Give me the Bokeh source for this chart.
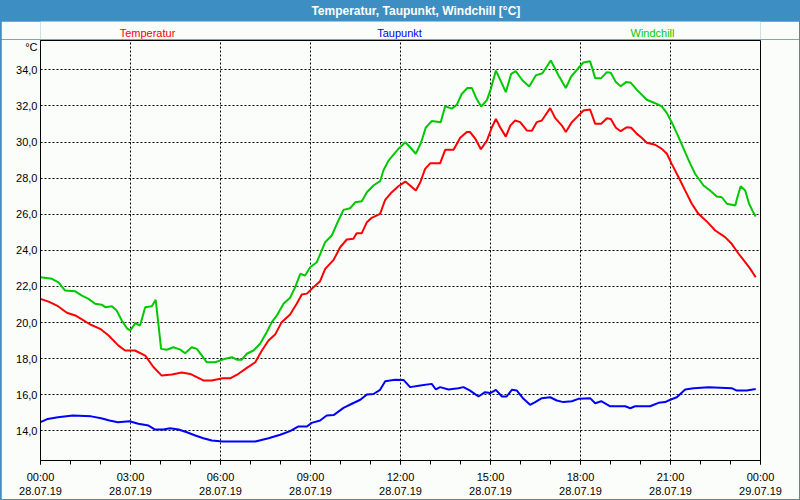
from bokeh.plotting import figure
from bokeh.models import FixedTicker, Range1d
from bokeh.layouts import column
from bokeh.embed import file_html
from bokeh.resources import INLINE
from bokeh.core.properties import value

# ---------------- data ----------------
title_text = "Temperatur, Taupunkt, Windchill [°C]"
series_names = ["Temperatur", "Taupunkt", "Windchill"]
series_colors = ["#ff0000", "#0000ff", "#00c800"]
y_unit = "°C"

x_ticks = [0, 3, 6, 9, 12, 15, 18, 21, 24]
x_tick_labels = ["00:00\n28.07.19", "03:00\n28.07.19", "06:00\n28.07.19",
                 "09:00\n28.07.19", "12:00\n28.07.19", "15:00\n28.07.19",
                 "18:00\n28.07.19", "21:00\n28.07.19", "00:00\n29.07.19"]
x_minor = list(range(0, 25))
y_ticks = [14, 16, 18, 20, 22, 24, 26, 28, 30, 32, 34]
y_tick_labels = ["14,0", "16,0", "18,0", "20,0", "22,0", "24,0",
                 "26,0", "28,0", "30,0", "32,0", "34,0"]
y_unit_pos = 35.25  # where the unit label sits on the y axis

# hours since 28.07.19 00:00
hours_temp = [0.0, 0.27, 0.55, 0.88, 1.16, 1.38, 1.66, 1.99, 2.27, 2.6, 2.82, 3.15, 3.49, 3.77,
              4.04, 4.38, 4.71, 4.99, 5.21, 5.43, 5.71, 6.07, 6.32, 6.6, 6.88, 7.16, 7.38, 7.6,
              7.82, 8.04, 8.32, 8.54, 8.71, 8.88, 9.1, 9.32, 9.49, 9.77, 9.99, 10.21, 10.43,
              10.54, 10.71, 10.88, 11.04, 11.32, 11.49, 11.71, 11.93, 12.16, 12.32, 12.51,
              12.66, 12.82, 12.99, 13.32, 13.49, 13.77, 13.99, 14.21, 14.32, 14.49, 14.68,
              14.88, 15.04, 15.18, 15.32, 15.51, 15.66, 15.82, 15.99, 16.21, 16.38, 16.54,
              16.71, 16.99, 17.16, 17.38, 17.51, 17.71, 17.88, 18.1, 18.32, 18.49, 18.69,
              18.88, 19.01, 19.18, 19.34, 19.54, 19.69, 19.88, 20.04, 20.21, 20.49, 20.71,
              20.88, 21.04, 21.27, 21.49, 21.71, 21.93, 22.21, 22.49, 22.82, 23.04, 23.27,
              23.49, 23.66, 23.84]
temp = [21.31, 21.16, 20.94, 20.54, 20.39, 20.17, 19.89, 19.65, 19.28, 18.72, 18.45, 18.45, 18.17,
        17.52, 17.06, 17.12, 17.23, 17.15, 16.97, 16.79, 16.79, 16.91, 16.91, 17.16, 17.49, 17.80,
        18.45, 19.0, 19.33, 20.02, 20.44, 21.04, 21.55, 21.6, 21.96, 22.29, 22.97, 23.47, 24.17,
        24.6, 24.64, 24.95, 24.95, 25.56, 25.8, 26.02, 26.8, 27.22, 27.55, 27.81, 27.59, 27.31,
        27.77, 28.51, 28.82, 28.82, 29.57, 29.57, 30.24, 30.55, 30.55, 30.19, 29.6, 30.08, 30.79,
        31.28, 30.82, 30.3, 30.91, 31.19, 31.1, 30.64, 30.62, 31.10, 31.19, 31.88, 31.32, 30.91,
        30.55, 31.10, 31.38, 31.75, 31.80, 31.01, 31.01, 31.32, 31.28, 30.79, 30.6, 30.82, 30.79,
        30.45, 30.24, 29.96, 29.85, 29.62, 29.35, 28.79, 28.05, 27.31, 26.58, 26.02, 25.6, 25.1,
        24.73, 24.36, 23.81, 23.34, 22.97, 22.51]

hours_dew = [0.0, 0.24, 0.58, 1.08, 1.69, 2.02, 2.3, 2.58, 2.97, 3.26, 3.6, 3.82, 4.1, 4.32, 4.6,
             4.88, 5.16, 5.43, 5.71, 6.07, 7.16, 7.6, 7.99, 8.32, 8.6, 8.88, 9.04, 9.32, 9.54,
             9.77, 10.1, 10.38, 10.66, 10.88, 11.1, 11.32, 11.49, 11.82, 12.1, 12.32, 12.66,
             13.04, 13.18, 13.32, 13.6, 13.93, 14.1, 14.32, 14.6, 14.82, 14.99, 15.18, 15.38,
             15.54, 15.71, 15.88, 16.1, 16.32, 16.49, 16.71, 16.99, 17.21, 17.43, 17.71, 17.93,
             18.32, 18.49, 18.69, 18.99, 19.49, 19.66, 19.82, 20.32, 20.6, 20.82, 20.99, 21.21,
             21.49, 21.77, 22.27, 23.04, 23.21, 23.54, 23.84]
dew = [14.48, 14.66, 14.75, 14.85, 14.8, 14.70, 14.57, 14.48, 14.53, 14.39, 14.29, 14.07, 14.07,
       14.14, 14.07, 13.92, 13.74, 13.59, 13.46, 13.41, 13.41, 13.59, 13.78, 13.98, 14.24, 14.24,
       14.44, 14.57, 14.85, 14.87, 15.27, 15.5, 15.72, 16.01, 16.04, 16.27, 16.75, 16.83, 16.82,
       16.42, 16.51, 16.6, 16.29, 16.42, 16.29, 16.36, 16.42, 16.23, 15.9, 16.14, 16.09, 16.27,
       15.9, 15.9, 16.27, 16.23, 15.77, 15.44, 15.59, 15.81, 15.86, 15.68, 15.59, 15.64, 15.77,
       15.81, 15.53, 15.64, 15.36, 15.36, 15.25, 15.36, 15.36, 15.55, 15.59, 15.72, 15.86, 16.29,
       16.36, 16.42, 16.36, 16.23, 16.23, 16.32]

hours_wc = [0.0, 0.38, 0.6, 0.82, 1.16, 1.38, 1.6, 1.82, 2.04, 2.16, 2.38, 2.54, 2.71, 2.88, 2.99,
            3.16, 3.32, 3.49, 3.71, 3.84, 3.93, 4.02, 4.21, 4.43, 4.66, 4.82, 5.04, 5.21, 5.38,
            5.54, 5.82, 6.05, 6.16, 6.38, 6.54, 6.71, 6.88, 7.1, 7.32, 7.54, 7.71, 7.88, 8.1,
            8.32, 8.49, 8.66, 8.82, 8.99, 9.21, 9.49, 9.71, 9.88, 10.1, 10.32, 10.49, 10.71,
            10.88, 11.1, 11.32, 11.43, 11.6, 11.93, 12.16, 12.32, 12.51, 12.69, 12.84, 13.04,
            13.34, 13.49, 13.71, 13.88, 14.04, 14.23, 14.38, 14.54, 14.69, 14.88, 15.02, 15.18,
            15.36, 15.51, 15.69, 15.84, 16.07, 16.29, 16.51, 16.73, 17.01, 17.27, 17.51, 17.69,
            17.93, 18.1, 18.32, 18.49, 18.69, 18.88, 19.01, 19.18, 19.34, 19.52, 19.68, 19.88,
            20.21, 20.49, 20.71, 20.88, 21.04, 21.27, 21.49, 21.66, 21.82, 22.1, 22.32, 22.54,
            22.71, 22.88, 23.16, 23.23, 23.34, 23.49, 23.62, 23.73, 23.84]
wc = [22.51, 22.42, 22.23, 21.77, 21.73, 21.49, 21.31, 21.04, 20.99, 20.85, 20.9, 20.66, 20.11,
      19.68, 19.56, 19.96, 19.83, 20.85, 20.9, 21.26, 19.93, 18.54, 18.49, 18.63, 18.5, 18.30,
      18.63, 18.54, 18.17, 17.8, 17.8, 17.93, 17.99, 18.08, 17.94, 17.94, 18.27, 18.45, 18.82,
      19.46, 20.02, 20.39, 21.04, 21.37, 21.96, 22.70, 22.6, 23.06, 23.34, 24.45, 24.82, 25.47,
      26.24, 26.33, 26.66, 26.72, 27.22, 27.59, 27.83, 28.42, 28.97, 29.62, 29.99, 29.71, 29.35,
      29.99, 30.79, 31.16, 31.1, 31.98, 31.85, 32.07, 32.66, 32.99, 32.99, 32.38, 31.97, 32.32,
      32.99, 33.96, 33.32, 32.76, 33.78, 33.93, 33.41, 33.08, 33.69, 33.81, 34.52, 33.69, 32.99,
      33.63, 34.1, 34.41, 34.48, 33.54, 33.54, 33.87, 33.84, 33.32, 33.09, 33.32, 33.28, 32.89,
      32.34, 32.15, 31.97, 31.6, 31.10, 30.27, 29.43, 28.79, 28.24, 27.59, 27.31, 26.98, 26.94,
      26.58, 26.48, 26.94, 27.55, 27.31, 26.58, 26.2, 25.87]

# ---------------- styling ----------------
BAR = "#3d8fc3"
BG = "#fbfdfb"
FONT = "Liberation Sans"

# title bar (page rows 0..21)
tf = figure(width=800, height=21, x_range=Range1d(0, 800), y_range=Range1d(21, 0),
            toolbar_location=None, output_backend="svg", min_border=0,
            x_axis_location=None, y_axis_location=None, title=None)
tf.grid.visible = False
tf.outline_line_color = None
tf.background_fill_color = BAR
tf.border_fill_color = BAR
tf.text(x=[417], y=[10.5], text=[title_text], text_align="center", text_baseline="middle",
        text_color="white", text_font=value(FONT), text_font_style="bold",
        text_font_size="12px")

# series name strip (page rows 21..39); its frame is aligned with the chart frame (x 40..760)
sf = figure(width=798, height=18, x_range=Range1d(40, 760), y_range=Range1d(39, 21),
            toolbar_location=None, output_backend="svg", min_border=0,
            x_axis_location=None, y_axis_location=None, title=None, margin=(0, 1, 0, 1))
sf.grid.visible = False
sf.outline_line_color = None
sf.background_fill_color = BG
sf.border_fill_color = BG
legend_x = [147, 399, 652]
sf.text(x=legend_x, y=[32.5] * 3, text=series_names, text_color=series_colors,
        text_align="center", text_baseline="middle", text_font=value(FONT),
        text_font_size="11px")

# main chart (page rows 39..499)
p = figure(width=798, height=460, x_range=Range1d(0, 24), y_range=Range1d(12.355, 35.625),
           toolbar_location=None, output_backend="svg", title=None,
           min_border_left=39, min_border_right=39, min_border_top=1, min_border_bottom=39,
           background_fill_color=BG, border_fill_color=BG, margin=(0, 1, 1, 1))
p.outline_line_color = "black"
p.outline_line_width = 1

xt = FixedTicker(ticks=x_ticks, minor_ticks=x_minor)
p.xaxis.ticker = xt
p.xaxis.major_label_overrides = dict(zip(x_ticks, x_tick_labels))
p.xaxis.axis_line_color = "black"
p.xaxis.major_tick_in = 0
p.xaxis.major_tick_out = 4
p.xaxis.minor_tick_in = 0
p.xaxis.minor_tick_out = 4
p.xaxis.major_tick_line_color = "black"
p.xaxis.minor_tick_line_color = "black"
p.xaxis.major_label_standoff = 6
p.xaxis.major_label_text_font = FONT
p.xaxis.major_label_text_font_size = "11px"
p.xaxis.major_label_text_color = "black"

# y axis ticks include the unit label position; grid uses only the value ticks
p.yaxis.ticker = FixedTicker(ticks=y_ticks + [y_unit_pos], minor_ticks=[])
overrides = dict(zip(y_ticks, y_tick_labels))
overrides[y_unit_pos] = y_unit
p.yaxis.major_label_overrides = overrides
p.yaxis.axis_line_color = "black"
p.yaxis.major_tick_in = 0
p.yaxis.major_tick_out = 0
p.yaxis.minor_tick_line_color = None
p.yaxis.major_label_standoff = 3
p.yaxis.major_label_text_font = FONT
p.yaxis.major_label_text_font_size = "11px"
p.yaxis.major_label_text_color = "black"

p.xgrid.ticker = xt
p.ygrid.ticker = FixedTicker(ticks=y_ticks, minor_ticks=[])
for g in (p.xgrid, p.ygrid):
    g.grid_line_color = "black"
    g.grid_line_dash = "2 2"
    g.grid_line_width = 1

for xs, ys, c in ((hours_temp, temp, series_colors[0]),
                  (hours_dew, dew, series_colors[1]),
                  (hours_wc, wc, series_colors[2])):
    p.line(xs, ys, line_color=c, line_width=2)

layout = column(tf, sf, p, styles={"background-color": BAR})
html = file_html(layout, INLINE)
html = html.replace("<body>", '<body style="margin:0;background:%s">' % BAR, 1)
open("out.html", "w").write(html)
